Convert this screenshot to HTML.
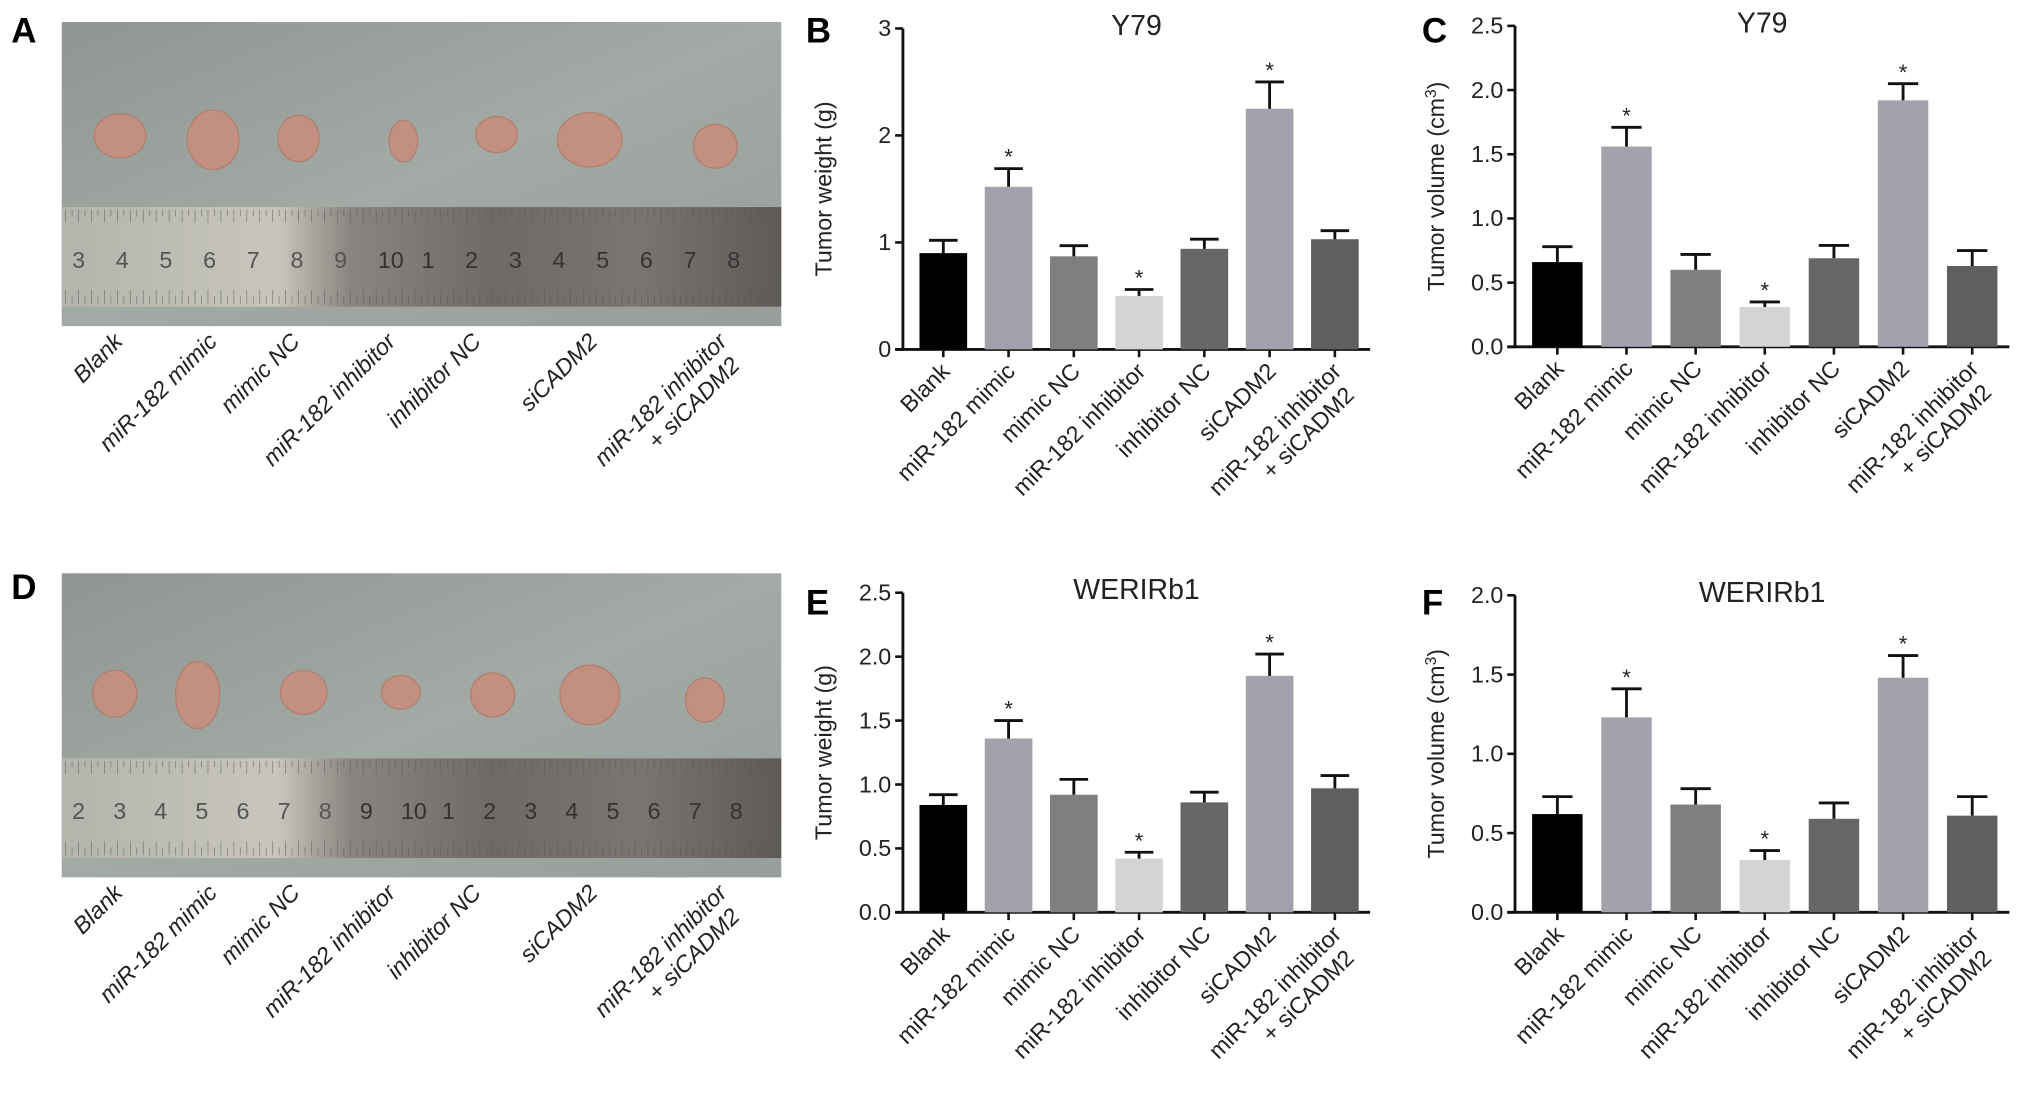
<!DOCTYPE html>
<html><head><meta charset="utf-8">
<style>
html,body{margin:0;padding:0;background:#fff;}
svg{display:block;font-family:"Liberation Sans",Arial,sans-serif;}
</style></head>
<body>
<svg id="fig" width="2031" height="1100" viewBox="0 0 1568 850" xmlns="http://www.w3.org/2000/svg">
<defs>
<linearGradient id="bg" x1="0" y1="0" x2="1" y2="1">
<stop offset="0" stop-color="#8f9692"/><stop offset="0.5" stop-color="#a3aaa6"/><stop offset="1" stop-color="#979d99"/></linearGradient>
<linearGradient id="ruler" x1="0" y1="0" x2="1" y2="0">
<stop offset="0" stop-color="#b4b4ac"/><stop offset="0.3" stop-color="#c8c6bc"/><stop offset="0.4" stop-color="#8a8580"/><stop offset="0.6" stop-color="#6f6a66"/><stop offset="0.8" stop-color="#7a7572"/><stop offset="1" stop-color="#5e5a58"/></linearGradient>
</defs>
</svg>
<script>
// ---------- data ----------
const categories = ["Blank","miR-182 mimic","mimic NC","miR-182 inhibitor","inhibitor NC","siCADM2","miR-182 inhibitor|+ siCADM2"];
const colors = ["#000000","#a2a2aa","#7f7f7f","#d4d4d4","#676767","#a2a2aa","#5f5f5f"];
const stars = [false,true,false,true,false,true,false];
const weightY79 = [0.90,1.52,0.87,0.50,0.94,2.25,1.03];
const weightY79Err = [0.12,0.17,0.10,0.06,0.09,0.25,0.08];
const volumeY79 = [0.66,1.56,0.60,0.31,0.69,1.92,0.63];
const volumeY79Err = [0.12,0.15,0.12,0.04,0.10,0.13,0.12];
const weightWER = [0.84,1.36,0.92,0.42,0.86,1.85,0.97];
const weightWERErr = [0.08,0.14,0.12,0.05,0.08,0.17,0.10];
const volumeWER = [0.62,1.23,0.68,0.33,0.59,1.48,0.61];
const volumeWERErr = [0.11,0.18,0.10,0.06,0.10,0.14,0.12];
const ticksB = ["0","1","2","3"];
const ticksC = ["0.0","0.5","1.0","1.5","2.0","2.5"];
const ticksE = ["0.0","0.5","1.0","1.5","2.0","2.5"];
const ticksF = ["0.0","0.5","1.0","1.5","2.0"];
const rulerNumsA = ["3","4","5","6","7","8","9","10","1","2","3","4","5","6","7","8"];
const rulerNumsD = ["2","3","4","5","6","7","8","9","10","1","2","3","4","5","6","7","8"];

const NS="http://www.w3.org/2000/svg";
const svg=document.getElementById('fig');
function mk(tag,attrs,parent){const e=document.createElementNS(NS,tag);for(const k in attrs)e.setAttribute(k,attrs[k]);(parent||svg).appendChild(e);return e;}

function letter(t,x,y){const e=mk('text',{x:x,y:y,'font-size':27,'font-weight':'bold'});e.textContent=t;

}

function chart(id,x0,yTop,yBot,xEnd,maxV,ticks,vals,errs,title,ylab){
  const g=mk('g',{});
  
  
  const ys=v=>yBot-(v/maxV)*(yBot-yTop);
  const n=vals.length, step=(xEnd-x0-8)/n, bw=step*0.73;
  const xc=i=>x0+6+step*i+step/2;
  const ya=mk('line',{x1:x0,y1:yTop,x2:x0,y2:yBot,stroke:'#111','stroke-width':2.2},g);
  
  
  const xa=mk('line',{x1:x0-6,y1:yBot,x2:xEnd,y2:yBot,stroke:'#111','stroke-width':2.2},g);
  
  
  ticks.forEach((t,i)=>{const v=parseFloat(t);const y=ys(v);
    mk('line',{x1:x0-6,y1:y,x2:x0,y2:y,stroke:'#111','stroke-width':2},g);
    const tx=mk('text',{x:x0-9,y:y+6,'font-size':18,'text-anchor':'end',fill:'#222'},g);tx.textContent=t;
    
    
  });
  const tt=mk('text',{x:(x0+xEnd)/2,y:yTop+5,'font-size':22,'text-anchor':'middle',fill:'#222'},g);tt.textContent=title;
  
  
  const yl=mk('text',{x:0,y:0,'font-size':18,'text-anchor':'middle',fill:'#222',transform:`translate(${x0-55},${(yTop+yBot)/2}) rotate(-90)`},g);
  yl.innerHTML=ylab;
  
  
  vals.forEach((v,i)=>{
    const cx=xc(i), y=ys(v), ye=ys(v+errs[i]);
    const r=mk('rect',{x:cx-bw/2,y:y,width:bw,height:yBot-y,fill:colors[i]},g);
    
    
    const eb=mk('path',{d:`M${cx},${y} V${ye} M${cx-bw*0.3},${ye} H${cx+bw*0.3}`,stroke:'#111','stroke-width':2.2,fill:'none'},g);
    
    
    if(stars[i]){const s=mk('text',{x:cx,y:ye-3,'font-size':17,'text-anchor':'middle',fill:'#222'},g);s.textContent='*';
      
      }
    mk('line',{x1:cx,y1:yBot,x2:cx,y2:yBot+6,stroke:'#111','stroke-width':2},g);
    const parts=categories[i].split('|');
    const lab=mk('text',{x:0,y:0,'font-size':18,'text-anchor':'end',fill:'#222',transform:`translate(${cx+6},${yBot+18}) rotate(-45)`},g);
    parts.forEach((p,k)=>{const ts=mk('tspan',{x:k?-6:0,dy:k?20:0},lab);ts.textContent=p;});
    
    
  });
}

function photo(id,y0,nums,tum){
  const g=mk('g',{});
  
  
  mk('rect',{x:47,y:y0,width:556,height:235,fill:'url(#bg)'},g);
  const rl=mk('rect',{x:47,y:y0+143,width:556,height:77,fill:'url(#ruler)'},g);
  
  
  for(let k=0;k<110;k++){const x=50+k*5;mk('line',{x1:x,y1:y0+145,x2:x,y2:y0+(k%2?150:155),stroke:'#555','stroke-width':0.6,opacity:0.6},g);
    mk('line',{x1:x,y1:y0+218,x2:x,y2:y0+(k%2?212:207),stroke:'#555','stroke-width':0.6,opacity:0.6},g);}
  const sp=540/nums.length;
  nums.forEach((t,k)=>{const tx=mk('text',{x:55+sp*k,y:y0+190,'font-size':18,fill:k<nums.length*0.4?'#555':'#333'},g);tx.textContent=t;});
  tum.forEach((t,i)=>{const e=mk('ellipse',{cx:t[0],cy:y0+t[1],rx:t[2],ry:t[3],fill:'#c38f80',stroke:'#b08070','stroke-width':1},g);
    
    });
  const lx=[95,168,232,306,372,462,562];
  categories.forEach((c,i)=>{const parts=c.split('|');
    const lab=mk('text',{x:0,y:0,'font-size':18,'font-style':'italic','text-anchor':'end',fill:'#222',transform:`translate(${lx[i]},${y0+248}) rotate(-45)`},g);
    parts.forEach((p,k)=>{const ts=mk('tspan',{x:k?-6:0,dy:k?20:0},lab);ts.textContent=p;});
    
    });
}

letter('A',8,33);letter('B',622,33);letter('C',1098,33);
letter('D',8,463);letter('E',622,475);letter('F',1098,475);
photo('a',17,rulerNumsA,[[92,88,20,17],[164,91,20,23],[230,90,16,18],[311,92,11,16],[383,87,16,14],[455,91,25,21],[552,96,17,17]]);
photo('d',443,rulerNumsD,[[88,93,17,18],[152,94,17,26],[234,92,18,17],[309,92,15,13],[380,94,17,17],[455,94,23,23],[544,98,15,17]]);
chart('b',697,22,270,1058,3,ticksB,weightY79,weightY79Err,'Y79','Tumor weight (g)');
chart('c',1170,20,268,1552,2.5,ticksC,volumeY79,volumeY79Err,'Y79','Tumor volume (cm<tspan dy="-6" font-size="12">3</tspan><tspan dy="6">)</tspan>');
chart('e',697,458,705,1058,2.5,ticksE,weightWER,weightWERErr,'WERIRb1','Tumor weight (g)');
chart('f',1170,460,705,1552,2.0,ticksF,volumeWER,volumeWERErr,'WERIRb1','Tumor volume (cm<tspan dy="-6" font-size="12">3</tspan><tspan dy="6">)</tspan>');
</script>
</body></html>
